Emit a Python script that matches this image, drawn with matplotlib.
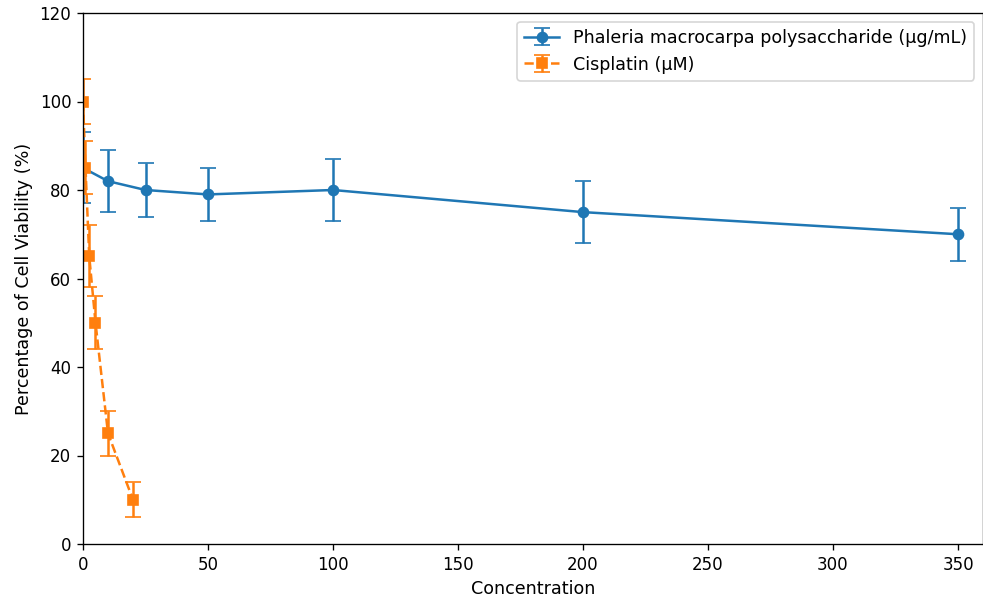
import matplotlib
matplotlib.use("Agg")
import matplotlib.pyplot as plt

# Phaleria macrocarpa polysaccharide (ug/mL)
pm_conc = [0, 10, 25, 50, 100, 200, 350]
pm_viab = [85, 82, 80, 79, 80, 75, 70]
pm_err = [8, 7, 6, 6, 7, 7, 6]

# Cisplatin (uM)
cis_conc = [0, 1, 2.5, 5, 10, 20]
cis_viab = [100, 85, 65, 50, 25, 10]
cis_err = [5, 6, 7, 6, 5, 4]

plt.rcParams['font.size'] = 10.5

fig = plt.figure(figsize=(984 / 120, 603 / 120), dpi=120)
ax = fig.add_axes([83 / 984, 1 - 544 / 603, 900 / 984, 531 / 603])

ax.errorbar(pm_conc, pm_viab, yerr=pm_err, fmt='-o', capsize=5,
            color='#1f77b4', label='Phaleria macrocarpa polysaccharide (µg/mL)')
ax.errorbar(cis_conc, cis_viab, yerr=cis_err, fmt='--s', capsize=5,
            color='#ff7f0e', label='Cisplatin (µM)')

ax.set_xlim(0, 360)
ax.set_ylim(0, 120)
ax.tick_params(labelsize=10)
ax.set_xlabel('Concentration')
ax.set_ylabel('Percentage of Cell Viability (%)')
ax.legend(loc='upper right')

fig.savefig('out.png', dpi=120)
